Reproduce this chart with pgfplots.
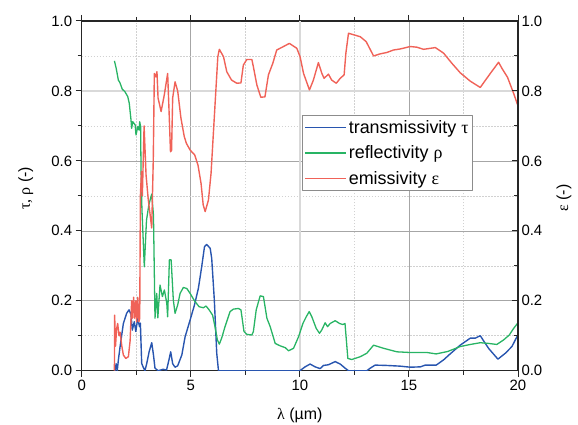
\documentclass[border=0pt]{standalone}
\usepackage{pgfplots}
\pgfplotsset{compat=1.18}
\usepackage{fontspec}
\setmainfont{Liberation Sans}
\newfontfamily\grk{Liberation Serif}
\definecolor{cT}{RGB}{40,85,175}
\definecolor{cR}{RGB}{40,180,100}
\definecolor{cE}{RGB}{240,98,88}
\begin{document}
\begin{tikzpicture}
\begin{axis}[
  at={(0,0)}, anchor=south west,
  scale only axis, width=436.3bp, height=349.7bp,
  xmin=0, xmax=20, ymin=0, ymax=1,
  xtick={0,5,10,15,20}, ytick={0,0.2,0.4,0.6,0.8,1.0},
  minor xtick={2.5,7.5,12.5,17.5}, minor ytick={0.1,0.3,0.5,0.7,0.9},
  xtick pos=both, ytick pos=left, tick align=outside,
  major tick length=6bp, minor tick length=4bp,
  grid=both,
  major grid style={color=black!35, line width=0.6pt},
  minor grid style={color=black!18, dash pattern=on 1.5pt off 1.5pt, line width=0.5pt},
  axis line style={black!85, line width=1.1pt},
  every tick/.style={black!85, line width=1pt},
  tick label style={font=\fontsize{15}{18}\selectfont},
  /pgf/number format/assume math mode=true,
  yticklabel style={/pgf/number format/fixed, /pgf/number format/fixed zerofill, /pgf/number format/precision=1},
  xlabel={{\grk λ} (µm)},
  xlabel style={at={(axis description cs:0.5,0)}, anchor=north, yshift=-34bp, font=\fontsize{16}{19}\selectfont},
  ylabel={{\grk τ, ρ} (-)},
  ylabel style={at={(axis description cs:-0.1284,0.522)}, anchor=center, font=\fontsize{16}{19}\selectfont},
  legend style={at={(axis description cs:0.505,0.731)}, anchor=north west, draw=black!45, line width=0.6pt, fill=white,
    font=\fontsize{18}{21}\selectfont, inner xsep=2bp, inner ysep=3bp, row sep=7bp},
  legend cell align=left,
  legend image code/.code={\draw[#1, line width=1.5pt] (0bp,0bp) -- (41bp,0bp);},
  line join=round,
]
\draw[black!15, line width=1.8pt] (axis cs:10,0) -- (axis cs:10,1);
\draw[black!15, line width=1.8pt] (axis cs:0,0.8) -- (axis cs:20,0.8);
\addplot[cT, line width=1.4pt] coordinates {
(1.53,0.0) (1.58,0.02) (1.63,0.0) (1.68,0.03) (1.76,0.069) (1.91,0.135) (2.06,0.164) (2.17,0.174) (2.26,0.161) (2.32,0.116) (2.41,0.14) (2.48,0.112) (2.57,0.15) (2.65,0.126) (2.69,0.136) (2.75,0.021) (2.82,0.01) (2.9,0.0) (2.98,0.02) (3.09,0.054) (3.21,0.08) (3.29,0.045) (3.36,0.007) (3.51,0.0) (3.73,0.004) (3.89,0.002) (4.0,0.031) (4.08,0.054) (4.17,0.02) (4.28,0.01) (4.4,0.014) (4.59,0.045) (4.74,0.097) (4.97,0.145) (5.17,0.188) (5.35,0.236) (5.5,0.297) (5.63,0.355) (5.73,0.361) (5.89,0.35) (5.96,0.321) (6.08,0.202) (6.19,0.05) (6.27,0.0) (10.0,0.0) (10.24,0.011) (10.47,0.019) (10.7,0.011) (10.93,0.006) (11.08,0.015) (11.31,0.017) (11.62,0.026) (11.85,0.019) (12.08,0.007) (12.23,0.0) (13.07,0.0) (13.22,0.007) (13.45,0.016) (13.99,0.015) (14.6,0.013) (15.06,0.01) (15.52,0.011) (15.75,0.016) (16.25,0.016) (16.59,0.031) (16.89,0.048) (17.35,0.073) (17.81,0.093) (18.04,0.093) (18.27,0.1) (18.65,0.064) (19.08,0.033) (19.42,0.05) (19.72,0.069) (19.95,0.097) (20,0.1)
};
\addlegendentry{transmissivity {\grk τ}}
\addplot[cR, line width=1.3pt] coordinates {
(1.5,0.886) (1.58,0.865) (1.68,0.831) (1.75,0.824) (1.86,0.805) (1.98,0.798) (2.11,0.784) (2.18,0.765) (2.26,0.717) (2.29,0.693) (2.34,0.712) (2.45,0.703) (2.49,0.674) (2.57,0.698) (2.63,0.688) (2.66,0.712) (2.7,0.698) (2.72,0.574) (2.76,0.464) (2.87,0.297) (2.97,0.43) (3.08,0.475) (3.21,0.505) (3.29,0.445) (3.36,0.15) (3.44,0.221) (3.49,0.151) (3.59,0.245) (3.7,0.212) (3.79,0.231) (3.9,0.193) (3.94,0.154) (4.02,0.317) (4.1,0.317) (4.2,0.202) (4.28,0.164) (4.4,0.188) (4.51,0.221) (4.66,0.238) (4.82,0.235) (4.97,0.221) (5.17,0.2) (5.38,0.183) (5.58,0.18) (5.7,0.185) (5.84,0.174) (6.0,0.159) (6.11,0.126) (6.22,0.088) (6.31,0.076) (6.42,0.094) (6.57,0.126) (6.8,0.169) (6.95,0.176) (7.18,0.178) (7.3,0.174) (7.44,0.112) (7.57,0.104) (7.8,0.102) (7.87,0.112) (8.0,0.174) (8.18,0.214) (8.33,0.212) (8.49,0.15) (8.64,0.126) (8.87,0.078) (9.1,0.071) (9.33,0.066) (9.48,0.057) (9.71,0.064) (9.94,0.097) (10.14,0.135) (10.29,0.154) (10.43,0.169) (10.55,0.154) (10.75,0.121) (10.9,0.107) (11.0,0.116) (11.16,0.137) (11.27,0.126) (11.39,0.135) (11.62,0.143) (11.82,0.135) (11.97,0.132) (12.07,0.135) (12.2,0.035) (12.38,0.032) (12.77,0.04) (13.07,0.05) (13.38,0.073) (13.84,0.064) (14.45,0.054) (15.06,0.052) (15.83,0.052) (16.25,0.048) (16.78,0.055) (17.35,0.069) (17.81,0.075) (18.27,0.08) (18.65,0.078) (19.03,0.075) (19.34,0.088) (19.6,0.102) (19.8,0.121) (20,0.137)
};
\addlegendentry{reflectivity {\grk ρ}}
\addplot[cE, line width=1.4pt] coordinates {
(1.5,0.0) (1.51,0.159) (1.55,0.07) (1.6,0.12) (1.65,0.135) (1.71,0.1) (1.76,0.11) (1.84,0.07) (1.91,0.045) (2.02,0.035) (2.14,0.04) (2.22,0.086) (2.29,0.2) (2.33,0.15) (2.38,0.21) (2.43,0.15) (2.48,0.2) (2.52,0.14) (2.57,0.21) (2.62,0.14) (2.66,0.15) (2.69,0.5) (2.74,0.57) (2.78,0.5) (2.86,0.70) (2.95,0.56) (3.05,0.49) (3.21,0.408) (3.28,0.6) (3.33,0.85) (3.4,0.84) (3.45,0.855) (3.5,0.78) (3.64,0.741) (3.79,0.79) (3.94,0.85) (4.0,0.75) (4.07,0.626) (4.12,0.63) (4.17,0.78) (4.28,0.826) (4.4,0.8) (4.55,0.722) (4.7,0.67) (4.8,0.65) (4.97,0.631) (5.18,0.617) (5.33,0.588) (5.47,0.536) (5.57,0.474) (5.66,0.455) (5.81,0.488) (5.93,0.565) (6.08,0.726) (6.24,0.898) (6.31,0.919) (6.5,0.898) (6.65,0.855) (6.87,0.831) (7.11,0.822) (7.3,0.823) (7.41,0.874) (7.57,0.89) (7.8,0.89) (7.87,0.869) (8.03,0.817) (8.21,0.782) (8.4,0.783) (8.56,0.846) (8.76,0.879) (8.94,0.917) (9.25,0.927) (9.52,0.936) (9.86,0.922) (10.01,0.898) (10.17,0.85) (10.44,0.803) (10.62,0.831) (10.85,0.881) (11.01,0.85) (11.11,0.836) (11.31,0.848) (11.46,0.831) (11.67,0.822) (11.85,0.836) (12.03,0.846) (12.11,0.908) (12.23,0.965) (12.77,0.955) (13.04,0.941) (13.38,0.9) (13.68,0.906) (13.99,0.91) (14.29,0.917) (14.6,0.92) (15.06,0.927) (15.37,0.925) (15.67,0.919) (16.21,0.924) (16.59,0.908) (16.97,0.879) (17.35,0.852) (17.81,0.828) (18.27,0.81) (18.73,0.85) (19.11,0.882) (19.26,0.865) (19.52,0.839) (19.8,0.793) (20,0.757)
};
\addlegendentry{emissivity {\grk ε}}
\end{axis}
\begin{axis}[
  at={(0,0)}, anchor=south west,
  scale only axis, width=436.3bp, height=349.7bp,
  xmin=0, xmax=20, ymin=0, ymax=1,
  axis x line=none, axis y line*=right,
  axis line style={-, black!85, line width=1.1pt},
  ytick={0,0.2,0.4,0.6,0.8,1.0}, minor ytick={0.1,0.3,0.5,0.7,0.9},
  tick align=inside, major tick length=6bp, minor tick length=4bp,
  every tick/.style={black!85, line width=1pt},
  tick label style={font=\fontsize{15}{18}\selectfont},
  /pgf/number format/assume math mode=true,
  yticklabel style={/pgf/number format/fixed, /pgf/number format/fixed zerofill, /pgf/number format/precision=1},
  ylabel={{\grk ε} (-)},
  ylabel style={at={(axis description cs:1.1054,0.494)}, anchor=center, font=\fontsize{16}{19}\selectfont},
]
\end{axis}
\pgfresetboundingbox
\useasboundingbox (-81.7bp,-54.3bp) rectangle (496.3bp,370.7bp);
\end{tikzpicture}
\end{document}
